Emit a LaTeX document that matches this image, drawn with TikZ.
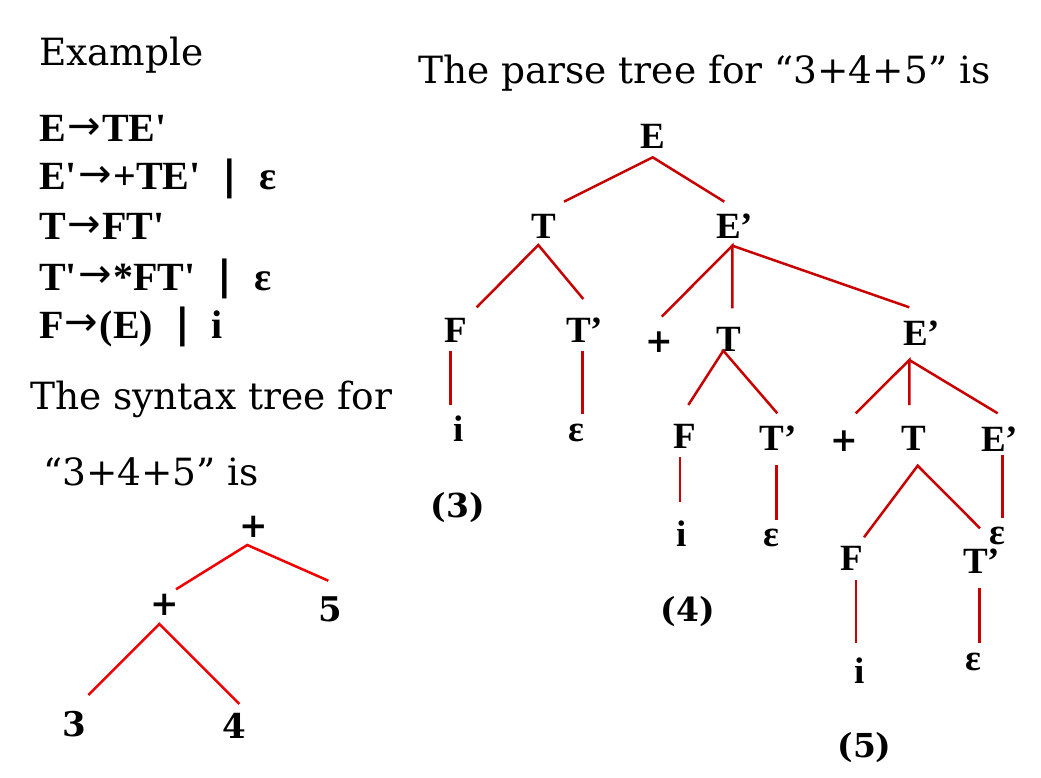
\documentclass[tikz,border=0pt]{standalone}
\usepackage{fontspec}
\setmainfont{DejaVu Serif}
\newfontfamily\tbf{Liberation Serif Bold}
\newfontfamily\dvb{DejaVu Serif Bold}
\newfontfamily\dvs{DejaVu Sans}
\newfontfamily\dvsb{DejaVu Sans Bold}
\newcommand{\garr}{\hspace{1.5pt}{\dvs\raisebox{2.5pt}{→}}\hspace{1.5pt}}
\newcommand{\gbar}{\hspace{0.55em}{\dvsb\raisebox{1pt}{|}}\hspace{0.55em}}
\definecolor{ptred}{RGB}{200,0,0}
\definecolor{stred}{RGB}{240,0,0}
\begin{document}
\begin{tikzpicture}[x=1pt,y=-1pt,
  every node/.style={inner sep=0pt,outer sep=0pt},
  txt/.style={anchor=base west,font=\fontsize{37.5}{44}\selectfont},
  gram/.style={anchor=base west,font=\tbf\fontsize{40}{44}\selectfont},
  pn/.style={anchor=base,font=\tbf\fontsize{37}{40}\selectfont},
  pc/.style={anchor=center,font=\dvb\fontsize{33}{40}\selectfont},
  lab/.style={anchor=center,font=\dvb\fontsize{33}{40}\selectfont},
  sn/.style={anchor=base,font=\dvb\fontsize{34}{40}\selectfont},
  sc/.style={anchor=center,font=\dvb\fontsize{34}{40}\selectfont},
  pline/.style={draw=ptred,line width=2.5pt},
  sline/.style={draw=stred,line width=2.5pt}]
\useasboundingbox (0,0) rectangle (1041,778);

% texts
\node[txt] (ex) at (39,66) {Example};
\node[txt] (ptitle) at (418,84) {The parse tree for “3+4+5” is};
\node[txt] (st1) at (30,409) {The syntax tree for};
\node[txt] (st2) at (43,485) {“3+4+5” is};

% grammar
\node[gram] (g1) at (39,142) {E\garr TE\char"0027};
\node[gram] (g2) at (39,190) {E\char"0027\garr +TE\char"0027\gbar ε};
\node[gram] (g3) at (39,240) {T\garr FT\char"0027};
\node[gram] (g4) at (39,290) {T\char"0027\garr *FT\char"0027\gbar ε};
\node[gram] (g5) at (39,338) {F\garr (E)\gbar i};

% syntax tree
\node[sc] (sp1) at (254,527) {+};
\node[sc] (sp2) at (165,605) {+};
\node[sn] (s5) at (330.5,621.7) {5};
\node[sn] (s3) at (74,736.7) {3};
\node[sn] (s4) at (234.5,738) {4};
\coordinate (sp1b) at (247.3,545);
\coordinate (sp2t) at (176,589.3);
\coordinate (s5t) at (328.3,580.7);
\coordinate (sp2b) at (159.3,624);
\coordinate (s3t) at (88.3,695);
\coordinate (s4t) at (239.3,704);
\draw[sline] (sp2t) -- (sp1b) -- (s5t);
\draw[sline] (s3t) -- (sp2b) -- (s4t);

% parse tree nodes
\node[pn] (E) at (652.5,148.3) {E};
\node[pn] (T1) at (544,238.3) {T};
\node[pn] (Ep1) at (734.5,238.3) {E’};
\node[pn] (F1) at (456,342.7) {F};
\node[pn] (Tp1) at (584.7,342.7) {T’};
\node[pc] (pl1) at (659,341.7) {+};
\node[pn] (T2) at (729.2,351) {T};
\node[pn] (Ep2) at (921.5,345) {E’};
\node[pn] (i1) at (458.8,441.7) {i};
\node[pn] (e1) at (576.7,441.7) {ε};
\node[lab] (L3) at (458,507.5) {(3)};
\node[pn] (F2) at (685,448.5) {F};
\node[pn] (Tp2) at (778.3,450) {T’};
\node[pc] (pl2) at (844,441) {+};
\node[pn] (T3) at (914.2,450) {T};
\node[pn] (Ep3) at (999.8,451.2) {E’};
\node[pn] (i2) at (682,546.5) {i};
\node[pn] (e2) at (771,546.5) {ε};
\node[lab] (L4) at (688,612) {(4)};
\node[pn] (e3) at (997.5,544.5) {ε};
\node[pn] (F3) at (851.5,570.7) {F};
\node[pn] (Tp3) at (981.5,573) {T’};
\node[pn] (i3) at (859.5,683.3) {i};
\node[pn] (e4) at (973.5,670) {ε};
\node[lab] (L5) at (864.5,748) {(5)};

% connector end points
\coordinate (Eb) at (652.7,157.3);
\coordinate (T1t) at (564,201.7);
\coordinate (Ep1t) at (724.3,201.7);
\coordinate (T1b) at (538.3,245);
\coordinate (F1t) at (476.7,307.3);
\coordinate (Tp1t) at (583.3,299);
\coordinate (Ep1b) at (732.3,245.7);
\coordinate (pl1t) at (661.7,316.7);
\coordinate (T2t) at (732.3,308.3);
\coordinate (Ep2t) at (909.3,307.3);
\coordinate (F1b) at (450.7,350.7);
\coordinate (i1t) at (450.7,405);
\coordinate (Tp1b) at (582.7,350.7);
\coordinate (e1t) at (582.7,414);
\coordinate (T2b) at (723.3,350.7);
\coordinate (F2t) at (688.3,405);
\coordinate (Tp2t) at (777.3,413.3);
\coordinate (Ep2b) at (909.3,360);
\coordinate (pl2t) at (855.7,413.3);
\coordinate (T3t) at (909.3,405);
\coordinate (Ep3t) at (997.7,413.3);
\coordinate (F2b) at (680,456.7);
\coordinate (i2t) at (680,501.7);
\coordinate (Tp2b) at (776.7,465);
\coordinate (e2t) at (776.7,520);
\coordinate (T3b) at (917.7,465.7);
\coordinate (F3t) at (864,537.3);
\coordinate (Tp3t) at (980,528.3);
\coordinate (Ep3b) at (1002.3,455);
\coordinate (e3t) at (1002.3,518.3);
\coordinate (F3b) at (856,580);
\coordinate (i3t) at (856,642.7);
\coordinate (Tp3b) at (979.3,588.3);
\coordinate (e4t) at (979.3,642.7);

\draw[pline] (T1t) -- (Eb) -- (Ep1t);
\draw[pline] (F1t) -- (T1b) -- (Tp1t);
\draw[pline] (pl1t) -- (Ep1b) -- (T2t);
\draw[pline] (Ep1b) -- (Ep2t);
\draw[pline] (F1b) -- (i1t);
\draw[pline] (Tp1b) -- (e1t);
\draw[pline] (F2t) -- (T2b) -- (Tp2t);
\draw[pline] (pl2t) -- (Ep2b) -- (T3t);
\draw[pline] (Ep2b) -- (Ep3t);
\draw[pline] (F2b) -- (i2t);
\draw[pline] (Tp2b) -- (e2t);
\draw[pline] (F3t) -- (T3b) -- (Tp3t);
\draw[pline] (Ep3b) -- (e3t);
\draw[pline] (F3b) -- (i3t);
\draw[pline] (Tp3b) -- (e4t);
\end{tikzpicture}
\end{document}
